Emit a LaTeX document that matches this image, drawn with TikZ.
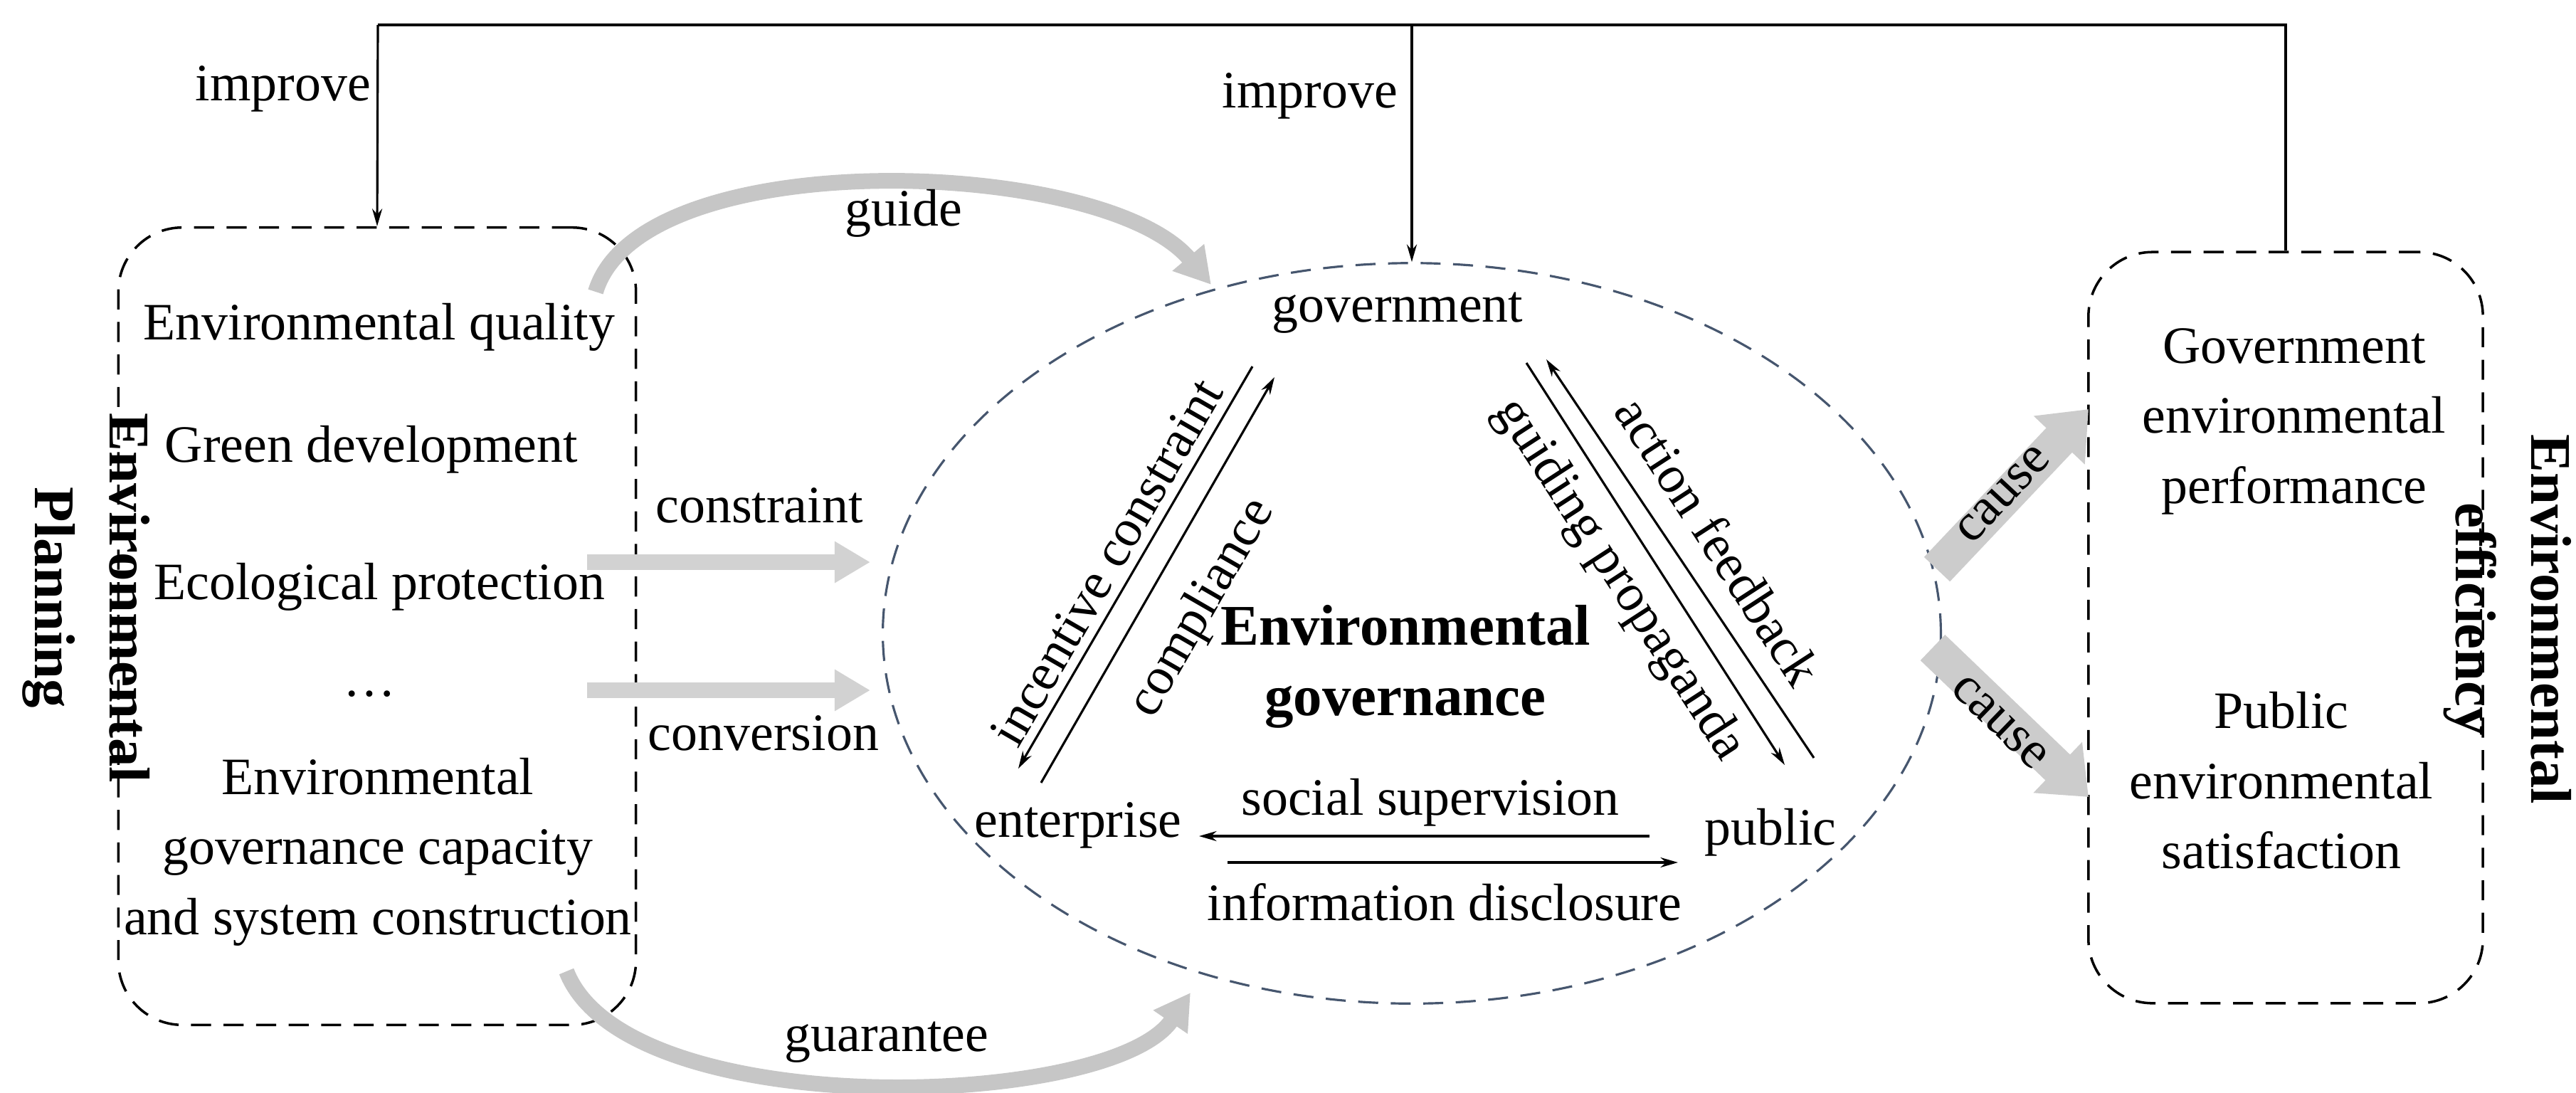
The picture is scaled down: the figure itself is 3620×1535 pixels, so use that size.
\documentclass[tikz,border=0pt]{standalone}
\usepackage{fontspec}
\setmainfont{Liberation Serif}
\usetikzlibrary{arrows.meta,shapes.geometric}
\definecolor{ellc}{RGB}{70,86,110}
\begin{document}
\begin{tikzpicture}[x=0.01cm,y=-0.01cm,
  txt/.style={font=\fontsize{21}{25}\selectfont, align=center, inner sep=0},
  multi/.style={font=\fontsize{21}{28}\selectfont, align=center, inner sep=0},
  bold/.style={font=\fontsize{23}{30}\selectfont\bfseries, align=center, inner sep=0},
  dbox/.style={draw, dashed, line width=1pt, rounded corners=0.9cm, dash pattern=on 8pt off 5pt},
  thin/.style={line width=0.9pt, -{Stealth[length=7pt,width=4pt]}},
  fat/.style={draw=gray!45, line width=0.22cm, -{Triangle[length=0.5cm,width=0.55cm]}},
  cause/.style={draw=gray!40, line width=0.5cm, -{Triangle[length=0.6cm,width=0.95cm]}}]
\useasboundingbox (0,0) rectangle (3620,1535);
% boxes
\node[dbox, minimum width=7.27cm, minimum height=11.2cm] (lbox) at (530,880) {};
\node[dbox, minimum width=5.54cm, minimum height=10.55cm] (rbox) at (3212,882) {};
\node[draw=ellc, dashed, dash pattern=on 8pt off 5pt, line width=0.9pt, ellipse, minimum width=14.86cm, minimum height=10.4cm] (ell) at (1984,890) {};
% left texts
\node[bold, rotate=-90] (ep) at (121,840) {Environmental\\Planning};
\node[txt] (l1) at (533,460) {Environmental quality};
\node[txt] (l2) at (522,632) {Green development};
\node[txt] (l3) at (533,825) {Ecological protection};
\node[txt] (l4) at (519,975) {\dots};
\node[multi] (l5) at (531,1197) {Environmental\\governance capacity\\and system construction};
% right texts
\node[bold, rotate=-90] (ee) at (3524,870) {Environmental\\efficiency};
\node[multi] (r1) at (3224,592) {Government\\environmental\\performance};
\node[multi] (r2) at (3206,1097) {Public\\environmental\\satisfaction};
% ellipse texts
\node[txt] (gov) at (1964,440) {government};
\node[txt] (ent) at (1515,1160) {enterprise};
\node[txt] (pub) at (2488,1170) {public};
\node[bold, font=\fontsize{23}{28}\selectfont\bfseries] (eg) at (1975,937) {Environmental\\governance};
% feedback lines
\coordinate (t0) at (531,35);
\coordinate (tm) at (1984,35);
\draw[line width=0.9pt] (rbox.north) |- (t0);
\draw[thin] (t0) -- (lbox.north);
\draw[thin] (tm) -- (ell.north);
\node[txt] (imp1) at (398,125) {improve};
\node[txt] (imp2) at (1841,135) {improve};
% triangle arrows
\coordinate (a1) at (1760,515); \coordinate (a2) at (1431,1080);
\coordinate (b1) at (1463,1100); \coordinate (b2) at (1791,530);
\draw[thin] (a1) -- (a2);
\draw[thin] (b1) -- (b2);
\node[txt, rotate=60] (ic) at (1555,790) {incentive constraint};
\node[txt, rotate=60] (cp) at (1690,855) {compliance};
\coordinate (c1) at (2145,510); \coordinate (c2) at (2508,1075);
\coordinate (d1) at (2549,1065); \coordinate (d2) at (2173,505);
\draw[thin] (c1) -- (c2);
\draw[thin] (d1) -- (d2);
\node[txt, rotate=-57] (gp) at (2275,815) {guiding propaganda};
\node[txt, rotate=-57] (af) at (2415,760) {action feedback};
\coordinate (e1) at (2318,1175); \coordinate (e2) at (1685,1175);
\coordinate (f1) at (1725,1212); \coordinate (f2) at (2358,1212);
\draw[thin] (e1) -- (e2);
\draw[thin] (f1) -- (f2);
\node[txt] (ss) at (2010,1128) {social supervision};
\node[txt] (id) at (2030,1268) {information disclosure};
% big gray arrows
\coordinate (g1) at (837,410); \coordinate (g2) at (1702,400);
\draw[fat] (g1) .. controls (900,200) and (1550,220) .. (g2);
\node[txt] (gd) at (1270,300) {guide};
\coordinate (h1) at (796,1365); \coordinate (h2) at (1673,1395);
\draw[fat] (h1) .. controls (880,1580) and (1560,1560) .. (h2);
\node[txt] (gt) at (1246,1465) {guarantee};
\coordinate (k1) at (825,790); \coordinate (k2) at (1223,790);
\coordinate (m1) at (825,970); \coordinate (m2) at (1223,970);
\draw[fat, draw=gray!35] (k1) -- (k2);
\draw[fat, draw=gray!35] (m1) -- (m2);
\node[txt] (cs) at (1067,710) {constraint};
\node[txt] (cv) at (1073,1030) {conversion};
\coordinate (p1) at (2722,800); \coordinate (p2) at (2935,575);
\coordinate (q1) at (2716,910); \coordinate (q2) at (2935,1120);
\draw[cause] (p1) -- (p2);
\draw[cause] (q1) -- (q2);
\node[txt, rotate=47] (ca1) at (2815,695) {cause};
\node[txt, rotate=-44] (ca2) at (2810,1015) {cause};
\end{tikzpicture}
\end{document}
